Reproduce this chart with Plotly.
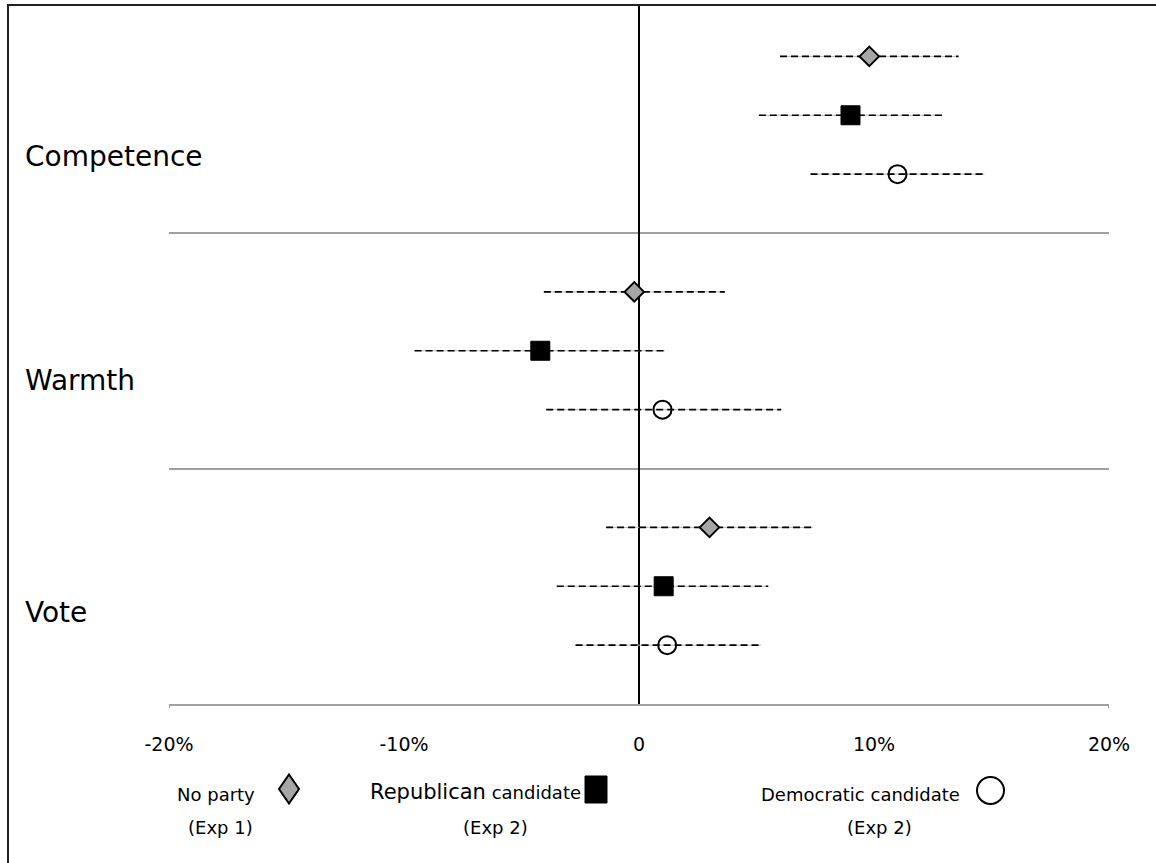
import plotly.graph_objects as go

W, H = 1156, 863

# ---------------- data ----------------
categories = ["Competence", "Warmth", "Vote"]
series_names = ["No party (Exp 1)", "Republican candidate (Exp 2)", "Democratic candidate (Exp 2)"]
# point estimates (%) per category, in category order
no_party_est = [9.8, -0.2, 3.0]
republican_est = [9.0, -4.2, 1.05]
democratic_est = [11.0, 1.0, 1.2]
# lower / upper bounds of the intervals (%)
no_party_lo = [6.0, -4.05, -1.4]
no_party_hi = [13.6, 3.65, 7.4]
republican_lo = [5.1, -9.55, -3.5]
republican_hi = [12.9, 1.1, 5.5]
democratic_lo = [7.3, -3.95, -2.7]
democratic_hi = [14.7, 6.05, 5.2]
x_tick_vals = [-20, -10, 0, 10, 20]
x_tick_text = ["-20%", "-10%", "0", "10%", "20%"]

FONT = "DejaVu Sans"

series = [
    dict(est=no_party_est, lo=no_party_lo, hi=no_party_hi,
         marker=dict(symbol="diamond", size=15, color="#A6A6A6", line=dict(color="black", width=2))),
    dict(est=republican_est, lo=republican_lo, hi=republican_hi,
         marker=dict(symbol="square", size=19, color="black", line=dict(color="black", width=1))),
    dict(est=democratic_est, lo=democratic_lo, hi=democratic_hi,
         marker=dict(symbol="circle-open", size=18, color="black", line=dict(color="black", width=2))),
]

n_cat = len(categories)
n_ser = len(series)
group = n_ser + 1

def row_y(c, s):
    return group * (n_cat - c) - 1 - s

fig = go.Figure()

for s, ser in enumerate(series):
    for c in range(n_cat):
        y = row_y(c, s)
        fig.add_trace(go.Scatter(x=[ser["lo"][c], ser["hi"][c]], y=[y, y], mode="lines",
                                 line=dict(color="#BBBBBB", width=1), hoverinfo="skip", showlegend=False))
        fig.add_trace(go.Scatter(x=[ser["lo"][c], ser["hi"][c]], y=[y, y], mode="lines",
                                 line=dict(color="black", width=1.6, dash="7px,4px"),
                                 hoverinfo="skip", showlegend=False))
    fig.add_trace(go.Scatter(x=ser["est"], y=[row_y(c, s) for c in range(n_cat)], mode="markers",
                             marker=ser["marker"], name=series_names[s], showlegend=False,
                             cliponaxis=False))

# category labels
cat_offsets = [9.3 - 10, 5.5 - 6, 1.55 - 2]
for c, name in enumerate(categories):
    center = row_y(c, 1)
    fig.add_annotation(x=23 / W, xref="paper", y=center + cat_offsets[c], yref="y",
                       text=name, showarrow=False, xanchor="left", yanchor="middle",
                       font=dict(family=FONT, size=28, color="black"))

# ---- legend (custom, drawn in pixel-space overlay axes) ----
leg_font = dict(family=FONT, size=18, color="black")
legend_items = [
    ("No party", 216, 794, "(Exp 1)", 220),
    ("<span style='font-size:21px'>Republican</span> candidate", 475, 792, "(Exp 2)", 495),
    ("Democratic candidate", 860, 794, "(Exp 2)", 879),
]
for txt, cx, cy, sub, sx in legend_items:
    fig.add_annotation(x=cx, y=cy, xref="x2", yref="y2", text=txt, showarrow=False,
                       xanchor="center", yanchor="middle", font=leg_font)
    fig.add_annotation(x=sx, y=827, xref="x2", yref="y2", text=sub, showarrow=False,
                       xanchor="center", yanchor="middle", font=leg_font)

# legend symbols
fig.add_shape(type="path", xref="x2", yref="y2",
              path="M 289 774.5 L 299 789 L 289 803.5 L 279 789 Z",
              fillcolor="#A6A6A6", line=dict(color="black", width=2))
fig.add_shape(type="rect", xref="x2", yref="y2", x0=585, x1=607, y0=776, y1=803,
              fillcolor="black", line=dict(color="black", width=1))
fig.add_shape(type="circle", xref="x2", yref="y2", x0=977, x1=1004, y0=777, y1=804,
              fillcolor="white", line=dict(color="black", width=2))

# small end ticks on x axis
for xv in [x_tick_vals[0], x_tick_vals[-1]]:
    fig.add_shape(type="line", xref="x", yref="y2", x0=xv, x1=xv, y0=704, y1=708,
                  line=dict(color="#A0A0A0", width=2))

# outer frame
fig.add_shape(type="rect", xref="x2", yref="y2", x0=8, x1=W + 10, y0=5, y1=H + 10,
              line=dict(color="#222222", width=2), fillcolor="rgba(0,0,0,0)", layer="above")

y_top = 11.873

fig.update_layout(
    template="none",
    width=W, height=H,
    margin=dict(l=0, r=0, t=0, b=0, pad=0, autoexpand=False),
    paper_bgcolor="white", plot_bgcolor="rgba(0,0,0,0)",
    showlegend=False,
    xaxis=dict(domain=[169 / W, 1109 / W], range=[-20, 20], tickvals=x_tick_vals, ticktext=x_tick_text,
               showline=True, linecolor="#A0A0A0", linewidth=2, ticks="",
               showgrid=False, zeroline=True, zerolinecolor="black", zerolinewidth=2,
               tickfont=dict(family=FONT, size=19, color="black"), ticklabelstandoff=22,
               anchor="y", automargin=False),
    yaxis=dict(domain=[(H - 704) / H, (H - 5) / H], range=[0, y_top],
               tickvals=[group * k for k in range(1, n_cat)], showticklabels=False,
               showgrid=True, gridcolor="#A0A0A0", gridwidth=1.5, zeroline=False,
               showline=False, ticks="", anchor="x", automargin=False),
    xaxis2=dict(domain=[0, 1], range=[0, W], visible=False, anchor="y2", automargin=False),
    yaxis2=dict(domain=[0, 1], range=[H, 0], visible=False, anchor="x2", automargin=False),
)

fig.write_html("out.html")
